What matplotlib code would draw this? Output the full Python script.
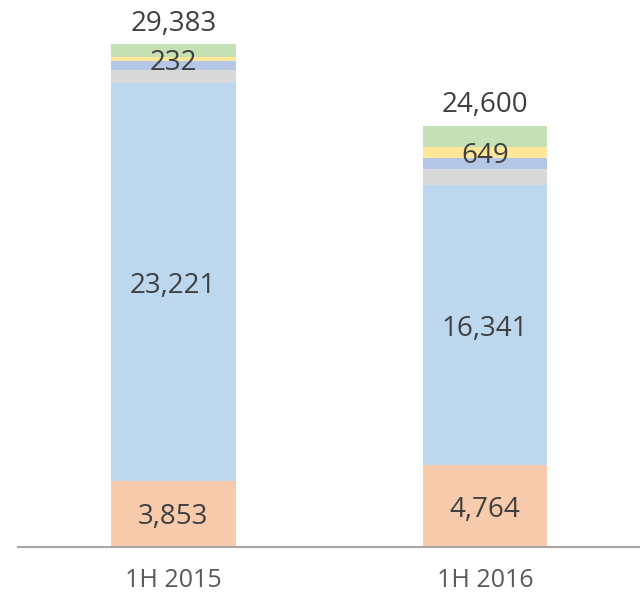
import matplotlib
matplotlib.use('Agg')
import matplotlib.pyplot as plt
import numpy as np

# ─── Data ────────────────────────────────────────────────────────────────────
categories = ["1H 2015", "1H 2016"]
seg_orange = [3853, 4764]
seg_lightblue = [23221, 16341]
seg_gray = [761, 976]
seg_blue = [515, 625]
seg_yellow = [232, 649]
seg_green = [801, 1245]
totals = [29383, 24600]

series = [seg_orange, seg_lightblue, seg_gray, seg_blue, seg_yellow, seg_green]
colors = ["#F8CBAD", "#BDD7EE", "#D9D9D9", "#B4C7E7", "#FFE699", "#C5E0B4"]
labelled = [True, True, False, False, True, False]

plt.rcParams["font.family"] = ["Open Sans", "DejaVu Sans"]

fig = plt.figure(figsize=(6.4, 5.93), dpi=100)
ax = fig.add_axes([18 / 640, 46 / 593, 622 / 640, 547 / 593])

x = np.arange(len(categories))
bottom = np.zeros(len(categories))
for vals, col, lab in zip(series, colors, labelled):
    vals = np.array(vals, dtype=float)
    ax.bar(x, vals, width=0.4, bottom=bottom, color=col, linewidth=0)
    if lab:
        for xi, b, v in zip(x, bottom, vals):
            ax.text(xi, b + v / 2, f"{int(v):,}", ha="center",
                    va="center_baseline", fontsize=20, color="#404040")
    bottom += vals

for xi, t in zip(x, totals):
    ax.annotate(f"{t:,}", (xi, t), xytext=(0, 17), textcoords="offset points",
                ha="center", va="center_baseline", fontsize=20, color="#404040")

ax.set_xlim(-0.498, 1.497)
ax.set_ylim(0, 31932)
for s in ["top", "right", "left"]:
    ax.spines[s].set_visible(False)
ax.spines["bottom"].set_color("#A6A6A6")
ax.spines["bottom"].set_linewidth(1.5)
ax.set_yticks([])
ax.set_xticks(x)
ax.set_xticklabels(categories, fontsize=18, color="#595959")
ax.tick_params(axis="x", length=0, pad=15)

fig.savefig("out.png", dpi=100)
